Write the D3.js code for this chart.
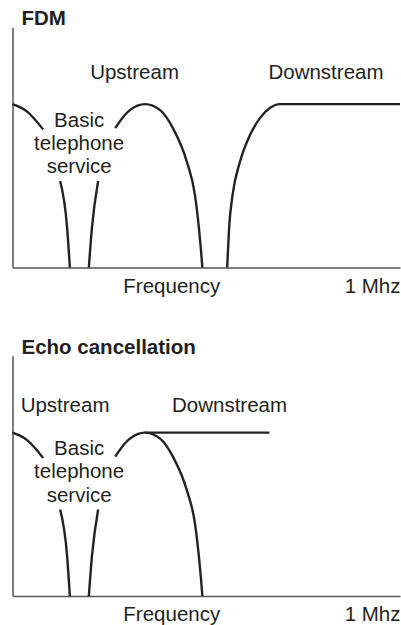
<!DOCTYPE html>
<html>
<head>
<meta charset="utf-8">
<script src="https://cdn.jsdelivr.net/npm/d3@7"></script>
<style>
  body { margin: 0; background: #fff; }
  text { font-family: "Liberation Sans", Arial, Helvetica, sans-serif; fill: #231f20; }
</style>
</head>
<body>
<div id="chart"></div>
<script>
// frequency in kHz, level relative to the top of the axis
var phoneUpper = [[0, 0.68], [37, 0.65], [79, 0.575]],
    phoneLower = [[123, 0.36], [141, 0.165], [148, 0]],
    upLower = [[197, 0], [205, 0.165], [221, 0.36]],
    upUpper = [[265, 0.58], [290, 0.635], [303, 0.655], [342, 0.68], [381, 0.655],
               [414, 0.58], [450, 0.44], [471, 0.30], [481, 0.165], [486, 0.08], [490, 0]],
    fdmDown = [[554, 0], [559, 0.165], [568, 0.303], [587, 0.44], [613, 0.552],
               [639, 0.623], [665, 0.665], [690, 0.68], [1000, 0.68]],
    echoDown = [[342, 0.68], [663, 0.68]];

var phoneText = ['Basic', 'telephone', 'service'],
    phoneLevels = [0.587, 0.49, 0.393];

// [text, frequency, level, anchor]
var fdmLabels = [['Upstream', 315, 0.784, 'middle'], ['Downstream', 809, 0.784, 'middle']],
    echoLabels = [['Upstream', 21, 0.764, 'start'], ['Downstream', 560, 0.764, 'middle']];

var W = 401, H = 625;

var x = d3.scaleLinear().domain([0, 1000]).range([12.5, 400]),
    y = d3.scaleLinear().domain([0, 1]).range([267.5, 27.3]);

var line = d3.line()
    .x(function(d){ return x(d[0]); })
    .y(function(d){ return y(d[1]); })
    .curve(d3.curveMonotoneX);

var svg = d3.select('#chart').append('svg')
    .attr('width', W)
    .attr('height', H);

function drawPanel(offset, title, bands, labels) {
  var g = svg.append('g').attr('transform', 'translate(0,' + offset + ')');

  g.append('g')
      .attr('transform', 'translate(0,' + y(0) + ')')
      .call(d3.axisBottom(x).tickValues([]).tickSizeOuter(0));
  g.append('g')
      .attr('transform', 'translate(' + x(0) + ',0)')
      .call(d3.axisLeft(y).tickValues([]).tickSizeOuter(0));
  g.selectAll('.domain').attr('stroke', '#555').attr('stroke-width', 1.5);

  g.selectAll('path.band')
      .data(bands)
    .enter().append('path')
      .attr('class', 'band')
      .attr('d', line)
      .attr('fill', 'none')
      .attr('stroke', '#222')
      .attr('stroke-width', 2.4);

  g.append('text')
      .attr('x', 21.5)
      .attr('y', 25)
      .attr('font-weight', 'bold')
      .attr('font-size', 20.5)
      .text(title);

  g.selectAll('text.band-label')
      .data(labels)
    .enter().append('text')
      .attr('class', 'band-label')
      .attr('x', function(d){ return x(d[1]); })
      .attr('y', function(d){ return y(d[2]); })
      .attr('text-anchor', function(d){ return d[3]; })
      .attr('font-size', 20.5)
      .text(function(d){ return d[0]; });

  g.selectAll('text.phone')
      .data(phoneText)
    .enter().append('text')
      .attr('class', 'phone')
      .attr('x', x(172))
      .attr('y', function(d, i){ return y(phoneLevels[i]); })
      .attr('text-anchor', 'middle')
      .attr('font-size', 20.5)
      .text(function(d){ return d; });

  g.append('text')
      .attr('x', x(411))
      .attr('y', y(0) + 25)
      .attr('text-anchor', 'middle')
      .attr('font-size', 20.5)
      .text('Frequency');

  g.append('text')
      .attr('x', x(1000) + 0.5)
      .attr('y', y(0) + 25)
      .attr('text-anchor', 'end')
      .attr('font-size', 20.5)
      .text('1 Mhz');
}

drawPanel(0, 'FDM', [phoneUpper, phoneLower, upLower, upUpper, fdmDown], fdmLabels);
drawPanel(328.5, 'Echo cancellation', [phoneUpper, phoneLower, upLower, upUpper, echoDown], echoLabels);
</script>
</body>
</html>
